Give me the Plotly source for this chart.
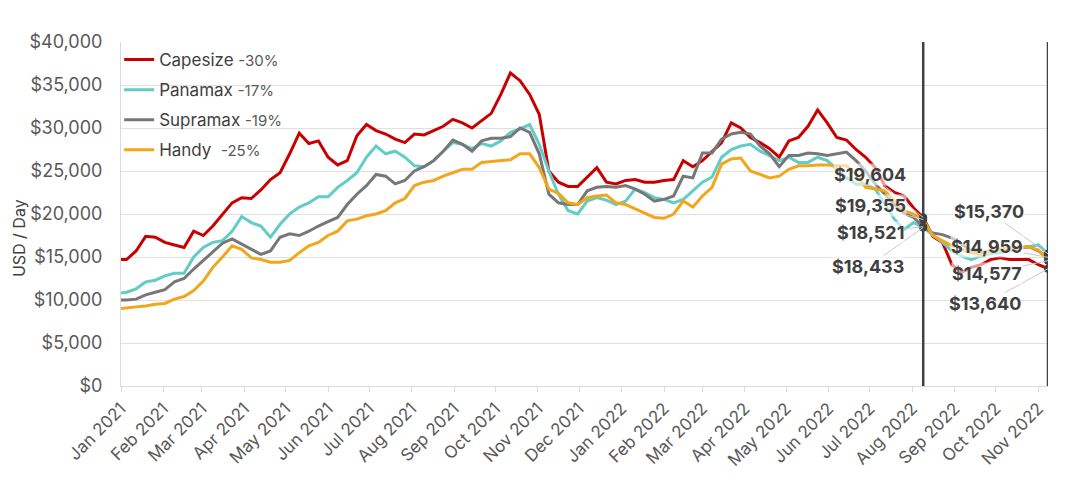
import pandas as pd
import plotly.graph_objects as go

# ---- data (USD/day), weekly readings ----
dates = ["2021-01-01"] + [d.strftime("%Y-%m-%d") for d in pd.date_range("2021-01-05", "2022-11-08", freq="7D")]

capesize = [14700, 14700, 15700, 17400, 17300, 16700, 16400, 16100, 18000, 17500,
            18600, 20000, 21300, 21900, 21800, 22800, 24000, 24800, 27000, 29400,
            28200, 28500, 26600, 25700, 26200, 29100, 30400, 29700, 29300, 28700,
            28300, 29300, 29200, 29700, 30200, 31000, 30600, 30000, 30800, 31700,
            33900, 36400, 35500, 33900, 31600, 25000, 23700, 23200, 23200, 24300,
            25400, 23700, 23500, 23900, 24000, 23700, 23700, 23900, 24000, 26200,
            25500, 26200, 27300, 28300, 30600, 30000, 28900, 28300, 27600, 26600,
            28500, 28900, 30200, 32100, 30600, 28900, 28600, 27500, 26600, 25400,
            23300, 22500, 22100, 20700, 19604, 17400, 16700, 14100, 13200, 13800,
            14100, 14700, 14900, 14700, 14700, 14700, 14100, 13640]

panamax = [10800, 10900, 11300, 12100, 12300, 12800, 13100, 13100, 15000, 16100,
           16700, 16900, 18000, 19700, 19000, 18600, 17300, 18800, 20000, 20800,
           21300, 22000, 22000, 23100, 23900, 24800, 26600, 27900, 27000, 27300,
           26600, 25600, 25500, 26200, 27300, 28300, 28100, 27600, 28200, 27900,
           28500, 29500, 29900, 30400, 28100, 25000, 22300, 20400, 20000, 21500,
           21900, 21600, 21100, 21500, 22900, 22500, 21900, 21700, 21300, 21700,
           22700, 23700, 24300, 26600, 27500, 27900, 28100, 27300, 26800, 26200,
           26600, 26000, 26000, 26600, 26200, 25200, 24200, 23500, 23500, 22900,
           21100, 19400, 18200, 19000, 18433, 17600, 16700, 15700, 15100, 14700,
           15100, 15400, 15500, 15700, 16000, 16200, 16400, 15370]

supramax = [10000, 10000, 10100, 10600, 10900, 11200, 12100, 12500, 13600, 14600,
            15500, 16600, 17100, 16500, 15900, 15300, 15700, 17300, 17700, 17500,
            18000, 18600, 19100, 19600, 21100, 22300, 23300, 24600, 24400, 23500,
            23900, 25000, 25500, 26200, 27300, 28600, 28100, 27300, 28500, 28800,
            28800, 29000, 30000, 29500, 27000, 22300, 21300, 21100, 21100, 22700,
            23100, 23200, 23100, 23300, 22900, 22300, 21500, 21700, 22100, 24400,
            24200, 27100, 27100, 28700, 29300, 29500, 29300, 27900, 27000, 25500,
            26800, 26800, 27100, 27000, 26800, 27000, 27200, 26200, 25000, 23500,
            22300, 21100, 20100, 19600, 18521, 17800, 17600, 17200, 16500, 15700,
            15500, 15700, 15900, 16000, 16100, 16200, 15700, 14959]

handy = [9000, 9100, 9200, 9300, 9500, 9600, 10100, 10400, 11100, 12200,
         13800, 15000, 16300, 15900, 14900, 14700, 14400, 14400, 14600, 15500,
         16300, 16700, 17500, 18000, 19200, 19400, 19800, 20000, 20400, 21300,
         21800, 23300, 23700, 23900, 24400, 24800, 25200, 25200, 26000, 26100,
         26200, 26300, 27000, 27000, 25400, 22900, 22400, 21300, 21100, 21900,
         22100, 22200, 21300, 21100, 20600, 20100, 19600, 19500, 20000, 21500,
         20800, 22100, 23100, 25800, 26400, 26500, 25000, 24600, 24200, 24400,
         25200, 25600, 25600, 25700, 25700, 25600, 25600, 24600, 23100, 22900,
         22700, 21500, 20400, 20000, 19355, 17500, 16900, 16300, 15900, 15500,
         15300, 15700, 15900, 16100, 16100, 16200, 15800, 14577]

series_names = ["Capesize", "Panamax", "Supramax", "Handy"]
series_changes = ["-30%", "-17%", "-19%", "-25%"]
series_values = [capesize, panamax, supramax, handy]
series_colors = ["#C80000", "#62CCC7", "#777777", "#F2A61C"]

marker_dates = ["2022-08-09", "2022-11-08"]

# label placement offsets (pixels) for each series at each marker date
label_offsets = {
    "2022-08-09": {"Capesize": (-53, -43), "Handy": (-53, -14), "Supramax": (-53, 6), "Panamax": (-55, 39)},
    "2022-11-08": {"Panamax": (-59, -42), "Supramax": (-61, -11), "Handy": (-61, 13), "Capesize": (-63, 35)},
}

fig = go.Figure()

for name, chg, vals, col in zip(series_names, series_changes, series_values, series_colors):
    sep = "\u00a0\u00a0" if name == "Handy" else "\u00a0"
    fig.add_trace(go.Scatter(
        x=dates, y=vals, mode="lines",
        name=f"<span style='color:#404040'>{name}</span>{sep}<span style='font-size:15px;color:#595959'>{chg}</span>",
        line=dict(color=col, width=3),
        legendgroup=name,
    ))

# endpoint markers
mx, my = [], []
for d in marker_dates:
    i = dates.index(d)
    for vals in series_values:
        mx.append(d)
        my.append(vals[i])
fig.add_trace(go.Scatter(x=mx, y=my, mode="markers", showlegend=False,
                         marker=dict(color="#404040", size=8)))

annotations = []
for d in marker_dates:
    i = dates.index(d)
    for name, vals in zip(series_names, series_values):
        ax, ay = label_offsets[d][name]
        annotations.append(dict(
            x=d, y=vals[i], xref="x", yref="y",
            text=f"${vals[i]:,}", showarrow=True, ax=ax, ay=ay,
            arrowhead=0, arrowwidth=1, arrowcolor="#c8c8c8", standoff=0,
            font=dict(family="Inter", size=18, color="#404040", weight=700),
            bgcolor="rgba(255,255,255,0.6)", borderpad=0,
        ))

annotations.append(dict(
    x=-0.110, y=0.43, xref="paper", yref="paper", text="USD / Day",
    xanchor="center", yanchor="middle",
    showarrow=False, textangle=-90, font=dict(family="Inter", size=16, color="#404040"),
))

shapes = [dict(type="line", xref="x", yref="paper", x0=d, x1=d, y0=0, y1=1,
               line=dict(color="#404040", width=2.5)) for d in marker_dates]

fig.update_layout(
    width=1080, height=486,
    margin=dict(l=113, r=40, t=34, b=108),
    plot_bgcolor="white", paper_bgcolor="white",
    font=dict(family="Inter", color="#595959"),
    showlegend=True,
    legend=dict(x=-0.002, y=1.0, xanchor="left", yanchor="top",
                bgcolor="rgba(0,0,0,0)", font=dict(size=17, color="#404040"),
                tracegroupgap=5, itemwidth=30),
    annotations=annotations,
    shapes=shapes,
    xaxis=dict(type="date", range=["2021-01-01", "2022-11-08"],
               tick0="2021-01-01", dtick="M1", tickformat="%b %Y", tickangle=-45,
               ticks="outside", ticklen=5, tickcolor="#d9d9d9",
               showline=True, linecolor="#d9d9d9", showgrid=False,
               tickfont=dict(size=17, color="#595959")),
    yaxis=dict(range=[0, 40000], dtick=5000, tickprefix="$", tickformat=",",
               showgrid=True, gridcolor="#e0e0e0", zeroline=False,
               showline=True, linecolor="#d9d9d9", ticklabelstandoff=14,
               tickfont=dict(size=18, color="#595959")),
)

fig.write_html("out.html")
